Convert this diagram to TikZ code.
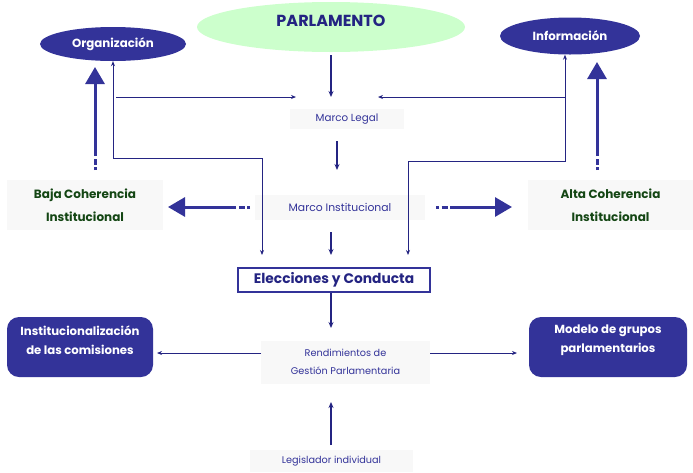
\documentclass[tikz,border=0pt]{standalone}
\usepackage{fontspec}
\setmainfont{Poppins}
\usepackage{tikz}
\usetikzlibrary{arrows.meta,shapes.geometric}

\definecolor{navy}{RGB}{36,36,130}
\definecolor{blueish}{RGB}{51,51,153}
\definecolor{paleg}{RGB}{204,255,204}
\definecolor{softgray}{RGB}{248,248,248}
\definecolor{darkgreen}{RGB}{20,70,20}

\begin{document}
\begin{tikzpicture}[x=1pt, y=-1pt, >={Stealth[length=6pt,width=5pt]},
  blueell/.style={ellipse, fill=blueish, text=white, font=\fontsize{11.8}{14}\selectfont\bfseries, inner sep=0pt},
  softbox/.style={rectangle, fill=softgray, text=blueish, font=\fontsize{10.3}{12}\selectfont, inner sep=0pt},
  bluebox/.style={rectangle, rounded corners=12pt, fill=blueish, inner sep=0pt, minimum width=146pt, minimum height=60pt},
  boxtext/.style={text=white, font=\fontsize{11.7}{19}\selectfont\bfseries, align=center},
  cohbox/.style={softbox, text=darkgreen, font=\fontsize{12}{23}\selectfont\bfseries, align=center, minimum height=50pt},
  mainarrow/.style={->, draw=navy, line width=1.8pt},
  thinarrow/.style={->, draw=navy, line width=0.9pt, >={Stealth[length=5pt,width=4pt]}},
  bigarrow/.style={-{Triangle[length=17pt,width=19pt]}, draw=blueish, line width=3pt, dash pattern=on 3pt off 2.5pt on 6pt off 2.5pt on 300pt}]
\path[use as bounding box] (0,0) rectangle (693,472);
% top row
\node[ellipse, fill=paleg, minimum width=268pt, minimum height=50pt, inner sep=0pt,
  label={[yshift=6pt, text=navy, font=\fontsize{16}{18}\selectfont\bfseries]center:PARLAMENTO}] (parl) at (331,27) {};
\node[blueell, minimum width=146pt, minimum height=34pt] (org) at (113,44) {Organización};
\node[blueell, minimum width=140pt, minimum height=37pt] (info) at (570,36) {Información};
% middle column
\node[softbox, minimum width=114pt, minimum height=20pt] (legal) at (347,119) {Marco Legal};
\node[softbox, font=\fontsize{10.8}{12}\selectfont, minimum width=170pt, minimum height=25pt] (inst) at (340,207) {Marco Institucional};
\node[cohbox, minimum width=156pt] (baja) at (85,205) {Baja Coherencia\\Institucional};
\node[cohbox, minimum width=165pt] (alta) at (610.5,205) {Alta Coherencia\\Institucional};
\node[rectangle, draw=blueish, line width=1.2pt, fill=white, text=navy, font=\fontsize{13.8}{16}\selectfont\bfseries,
  minimum width=192pt, minimum height=24pt, inner sep=0pt] (elec) at (334,280) {Elecciones y Conducta};
\node[softbox, align=center, font=\fontsize{9.7}{18}\selectfont, minimum width=169pt, minimum height=43pt] (rend) at (345.5,362) {Rendimientos de\\Gestión Parlamentaria};
\node[softbox, font=\fontsize{9.7}{11}\selectfont, minimum width=163pt, minimum height=22pt] (legis) at (331.5,461) {Legislador individual};
% bottom boxes
\node[bluebox, label={[boxtext, yshift=7pt]center:Institucionalización\\de las comisiones}] (comis) at (80,347) {};
\node[bluebox, minimum width=158pt, label={[boxtext, yshift=7pt]center:Modelo de grupos\\parlamentarios}] (grupos) at (608,347) {};

% free ends of connectors
\coordinate (parlout) at (331,55);
\coordinate (parlend) at (331,97);
\coordinate (legalout) at (337,141);
\coordinate (legalin) at (337,170);
\coordinate (instout) at (331,232);
\coordinate (instin) at (331,255);
\coordinate (rendin) at (331,328);
\coordinate (legisout) at (331,445);
\coordinate (rendtop) at (331,402);
\coordinate (lknee) at (262,158);
\coordinate (lend) at (262,255);
\coordinate (rknee) at (408,161);
\coordinate (rend2) at (408,255);
\coordinate (lhstart) at (116,97);
\coordinate (lhend) at (296,97);
\coordinate (rhstart) at (565,97);
\coordinate (rhend) at (378,97);
\coordinate (rendl) at (261,353);
\coordinate (comisin) at (157,353);
\coordinate (rendr) at (430,353);
\coordinate (gruposin) at (517,353);
\coordinate (bajaup) at (95,170);
\coordinate (bajatip) at (95,67);
\coordinate (altaup) at (597,170);
\coordinate (altatip) at (597,62);
\coordinate (instl) at (250,207);
\coordinate (bajatip2) at (168,207);
\coordinate (instr) at (436,207);
\coordinate (altatip2) at (512,207);

% spine
\draw[mainarrow] (parlout) -- (parlend);
\draw[mainarrow] (legalout) -- (legalin);
\draw[mainarrow] (instout) -- (instin);
\draw[mainarrow] (elec.south -| rendin) -- (rendin);
\draw[mainarrow] (legisout) -- (rendtop);
% loops to organizacion and informacion
\draw[thinarrow, <->] (org.south) |- (lknee) -- (lend);
\draw[thinarrow] (lhstart) -- (lhend);
\draw[thinarrow, <->] (info.south -| rhstart) |- (rknee) -- (rend2);
\draw[thinarrow] (rhstart) -- (rhend);
% outputs of rendimientos
\draw[thinarrow] (rendl) -- (comisin);
\draw[thinarrow] (rendr) -- (gruposin);
% coherence arrows
\draw[bigarrow] (bajaup) -- (bajatip);
\draw[bigarrow] (altaup) -- (altatip);
\draw[bigarrow] (instl) -- (bajatip2);
\draw[bigarrow] (instr) -- (altatip2);
\end{tikzpicture}
\end{document}
